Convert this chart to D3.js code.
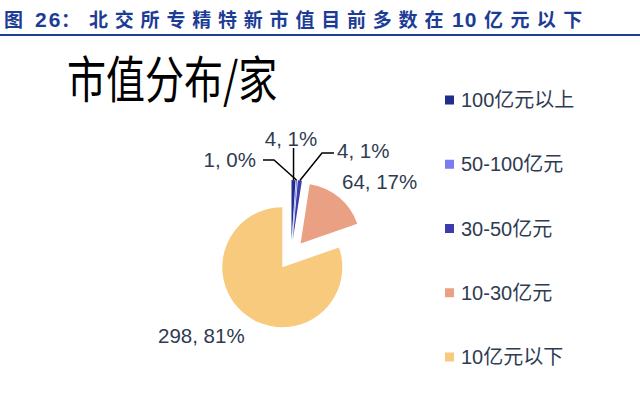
<!DOCTYPE html>
<html>
<head>
<meta charset="utf-8">
<script src="https://cdn.jsdelivr.net/npm/d3@7"></script>
<style>
  body { margin: 0; background: #fff; }
  svg { display: block; }
</style>
</head>
<body>
<svg id="chart"></svg>
<script>
// chart data
const categories = ['100亿元以上', '50-100亿元', '30-50亿元', '10-30亿元', '10亿元以下'];
const counts = [4, 1, 4, 64, 298];
const percentLabels = ['1%', '0%', '1%', '17%', '81%'];
const sliceColors = ['#1f2e8c', '#7b7bf2', '#3c3caf', '#e9a083', '#f8ca7e'];

const dim = { width: 640, height: 401 };
const textColor = '#2f3b52';
const headerColor = '#1d3c96';

const svg = d3.select('#chart')
  .attr('width', dim.width)
  .attr('height', dim.height);

drawHeader(svg);
drawTitle(svg);
drawPie(svg);
drawLegend(svg);

// blue report caption with the rule under it
function drawHeader(svg) {
  const segments = [
    { text: '图', x: 4, spacing: 0 },
    { text: '26', x: 35, spacing: 2, latin: true },
    { text: '：', x: 61, spacing: 0 },
    { text: '北交所专精特新市值目前多数在', x: 89, spacing: 6.8 },
    { text: '10', x: 452, spacing: 1, latin: true },
    { text: '亿元以下', x: 484, spacing: 7.4 }
  ];

  const header = svg.append('text')
    .attr('y', 27)
    .attr('fill', headerColor)
    .style('font-weight', 'bold')
    .style('font-size', '19px')
    .style('font-family', '"Noto Sans CJK SC", sans-serif');

  segments.forEach(s => {
    header.append('tspan')
      .attr('x', s.x)
      .style('letter-spacing', `${s.spacing}px`)
      .style('font-family', s.latin ? '"Liberation Sans", Arial, sans-serif' : null)
      .style('font-size', s.latin ? '21px' : null)
      .text(s.text);
  });

  svg.append('line')
    .attr('x1', 0)
    .attr('x2', dim.width)
    .attr('y1', 35)
    .attr('y2', 35)
    .attr('stroke', headerColor)
    .attr('stroke-width', 2);
}

// big chart title, the glyphs in the picture are taller than they are wide
function drawTitle(svg) {
  svg.append('text')
    .attr('transform', 'translate(67,98) scale(1,1.27)')
    .attr('fill', '#000')
    .style('font-size', '39px')
    .style('font-family', '"Noto Sans CJK SC", sans-serif')
    .text('市值分布/家');
}

// exploded pie starting at 12 o'clock, clockwise
function drawPie(svg) {
  const pieDim = { cx: 291, cy: 255, radius: 60, explode: 15 };

  const slices = d3.pie()
    .sort(null)
    .value(d => d)(counts);

  const arc = d3.arc()
    .innerRadius(0)
    .outerRadius(pieDim.radius);

  const g = svg.append('g')
    .attr('transform', `translate(${pieDim.cx},${pieDim.cy})`);

  // offset of a slice along its middle angle
  const shift = (s, r) => {
    const a = (s.startAngle + s.endAngle) / 2;
    return [Math.sin(a) * r, -Math.cos(a) * r];
  };

  g.selectAll('path')
    .data(slices)
    .join('path')
    .attr('d', arc)
    .attr('transform', s => `translate(${shift(s, pieDim.explode)})`)
    .attr('fill', (s, i) => sliceColors[i]);

  // where each label sits; small slices get leader lines with an elbow
  const labelLayout = [
    { x: 291, y: 146, anchor: 'middle', elbow: null, start: [4, 148] },
    { x: 256, y: 167, anchor: 'end', elbow: [274, 160], start: [263, 160] },
    { x: 337, y: 158, anchor: 'start', elbow: [322, 153], start: [334, 153] },
    { x: 342, y: 189, anchor: 'start' },
    { x: 158, y: 343, anchor: 'start' }
  ];

  slices.forEach((s, i) => {
    const lay = labelLayout[i];

    if (lay.start) {
      const [ox, oy] = shift(s, pieDim.explode + pieDim.radius);
      const tip = [pieDim.cx + ox, pieDim.cy + oy];
      // the top label drops a straight line onto its slice
      const from = lay.elbow ? lay.start : [tip[0], lay.start[1]];
      const pts = lay.elbow ? [from, lay.elbow, tip] : [from, tip];
      svg.append('path')
        .attr('d', d3.line()(pts))
        .attr('fill', 'none')
        .attr('stroke', '#000')
        .attr('stroke-width', 1.5);
    }

    svg.append('text')
      .attr('x', lay.x)
      .attr('y', lay.y)
      .attr('text-anchor', lay.anchor)
      .attr('fill', textColor)
      .style('font-size', '20.5px')
      .style('font-family', '"Liberation Sans", Arial, sans-serif')
      .text(`${counts[i]}, ${percentLabels[i]}`);
  });
}

// legend to the right, one row per category
function drawLegend(svg) {
  const y = d3.scalePoint()
    .domain(categories)
    .range([100, 357]);

  const legendDim = { x: 445, box: 9, gap: 7 };

  categories.forEach((c, i) => {
    svg.append('rect')
      .attr('x', legendDim.x)
      .attr('y', y(c) - legendDim.box / 2)
      .attr('width', legendDim.box)
      .attr('height', legendDim.box)
      .attr('fill', sliceColors[i]);

    svg.append('text')
      .attr('x', legendDim.x + legendDim.box + legendDim.gap)
      .attr('y', y(c) + 7)
      .attr('fill', textColor)
      .style('font-size', '20px')
      .style('font-family', '"Liberation Sans", Arial, "Noto Sans CJK SC", sans-serif')
      .text(c);
  });
}
</script>
</body>
</html>
